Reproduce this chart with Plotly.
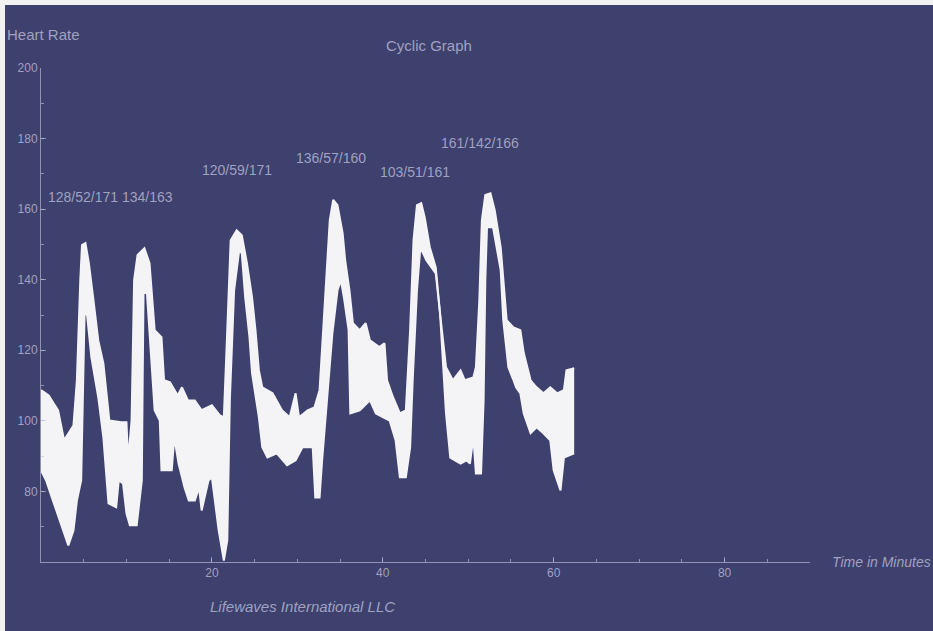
import plotly.graph_objects as go

# ---- data (minutes, heart rate bpm) ----
upper_min = [0, 0.9, 2.0, 2.7, 3.8, 4.2, 4.6, 4.8, 5.2, 5.6, 6.1, 6.7, 7.3, 8.0, 9.4, 10.0, 10.2, 10.6,
             10.9, 11.3, 12.1, 12.7, 13.3, 14.1, 14.4, 15.1, 16.0, 16.5, 17.2, 18.0, 18.8, 20.0, 20.9,
             21.4, 21.8, 22.2, 22.9, 23.5, 24.1, 24.7, 25.1, 25.5, 25.9, 27.1, 28.2, 29.1, 29.8, 30.2,
             31.2, 32.0, 32.6, 33.2, 33.8, 34.2, 34.7, 35.3, 35.6, 36.1, 36.5, 37.3, 38.0, 38.5, 39.6,
             40.2, 40.5, 41.2, 42.0, 42.7, 43.2, 43.6, 44.0, 44.5, 44.9, 45.5, 46.2, 46.7, 47.1, 47.4,
             48.2, 49.1, 49.6, 50.6, 50.9, 51.3, 51.6, 52.0, 52.6, 53.1, 53.8, 54.1, 54.5, 55.3, 56.1,
             56.5, 57.3, 58.0, 58.8, 59.6, 60.4, 61.2, 61.5, 62.4]
upper_hr = [108.7, 107.2, 103.0, 94.5, 98.7, 111.5, 139.9, 149.8, 150.4, 144.7, 135.0, 122.8, 116.3,
            100.1, 99.6, 99.6, 88.8, 100.1, 139.9, 147.0, 148.9, 144.7, 125.7, 123.7, 111.5, 110.9,
            107.2, 109.5, 105.8, 105.8, 103.0, 104.4, 101.6, 101.0, 125.7, 151.2, 154.0, 152.6, 144.7,
            135.0, 125.7, 114.3, 109.5, 107.8, 103.0, 101.0, 107.8, 101.0, 103.0, 103.8, 108.7, 134.2,
            156.9, 162.6, 161.1, 153.2, 145.5, 137.0, 127.7, 125.7, 127.7, 122.8, 120.9, 122.0, 111.5,
            106.7, 102.1, 103.0, 125.7, 151.2, 161.1, 161.7, 157.7, 149.2, 143.5, 130.5, 120.9, 115.2,
            111.5, 114.3, 111.5, 112.3, 115.2, 134.2, 156.9, 164.0, 164.5, 159.7, 149.2, 139.9, 128.5,
            126.5, 125.7, 119.2, 111.5, 109.5, 107.8, 109.5, 107.8, 108.7, 114.3, 114.9]

lower_min = [0, 0.6, 1.4, 2.4, 3.2, 3.8, 4.2, 4.7, 4.9, 5.1, 5.4, 5.9, 6.7, 7.3, 7.9, 8.8, 9.1, 9.6,
             10.0, 10.4, 11.2, 11.8, 11.9, 12.0, 12.4, 12.9, 13.3, 13.9, 14.1, 15.3, 15.6, 16.1, 16.8,
             17.3, 18.0, 18.5, 18.8, 19.6, 20.0, 20.8, 21.4, 21.8, 22.1, 22.6, 23.2, 23.5, 23.9, 24.4,
             24.7, 25.5, 25.9, 26.5, 27.6, 28.8, 29.8, 30.6, 31.8, 32.1, 32.6, 32.9, 33.5, 34.1, 34.7,
             35.1, 35.5, 36.0, 36.2, 37.3, 38.5, 39.2, 40.8, 41.5, 42.0, 42.7, 43.2, 43.5, 44.0, 44.4,
             45.1, 46.2, 46.7, 47.1, 47.4, 47.9, 49.1, 49.8, 50.2, 50.6, 50.9, 51.5, 51.8, 52.0, 52.2,
             52.9, 53.3, 53.8, 54.1, 54.7, 55.3, 55.6, 56.1, 56.5, 57.3, 58.0, 58.8, 59.6, 60.0, 60.8,
             61.2, 61.8, 62.4]
lower_hr = [86.0, 83.1, 77.4, 70.4, 64.7, 68.9, 77.4, 83.1, 105.8, 130.5, 129.9, 118.0, 106.7, 95.3,
            76.6, 75.5, 83.1, 82.3, 73.8, 70.4, 70.4, 83.1, 111.5, 136.2, 136.2, 116.3, 103.0, 100.1,
            86.0, 86.0, 95.3, 87.9, 81.1, 77.4, 77.4, 81.1, 74.6, 83.1, 84.0, 68.9, 60.4, 66.1, 105.8,
            137.0, 148.4, 147.5, 135.0, 123.7, 113.5, 101.0, 92.5, 89.6, 90.8, 87.4, 88.8, 92.5, 92.5,
            78.3, 78.3, 88.8, 105.8, 124.8, 137.0, 139.9, 134.2, 125.7, 102.1, 103.0, 105.8, 102.1,
            100.1, 94.5, 84.0, 84.0, 92.5, 111.5, 137.0, 149.2, 145.5, 141.8, 130.5, 115.2, 102.1, 89.6,
            87.9, 88.8, 87.9, 95.3, 85.1, 85.1, 105.8, 139.9, 154.9, 154.9, 149.2, 142.7, 128.5, 115.2,
            111.5, 109.5, 107.8, 102.1, 96.5, 98.2, 96.5, 94.5, 86.0, 80.3, 89.6, 90.1, 90.8]

peak_labels = ["128/52/171 134/163", "120/59/171", "136/57/160", "103/51/161", "161/142/166"]
x_tick_vals = [20, 40, 60, 80]
y_tick_vals = [80, 100, 120, 140, 160, 180, 200]

BG = "rgb(62,64,110)"
TXT = "rgba(200,202,225,0.72)"
AX = "rgba(190,192,215,0.65)"
WHITE = "#f4f4f6"

fig = go.Figure()
fig.add_trace(go.Scatter(x=lower_min, y=lower_hr, mode="lines",
                         line=dict(color=WHITE, width=2), hoverinfo="skip"))
fig.add_trace(go.Scatter(x=upper_min, y=upper_hr, mode="lines", fill="tonexty",
                         fillcolor=WHITE, line=dict(color=WHITE, width=2), hoverinfo="skip"))

W, H = 933, 631
L, R, T, B = 41, 123, 68, 69

fig.update_layout(
    width=W, height=H, showlegend=False,
    paper_bgcolor=BG, plot_bgcolor=BG,
    margin=dict(l=L, r=R, t=T, b=B),
    font=dict(family="Liberation Sans", size=12, color=TXT),
    xaxis=dict(range=[0, 90], tickvals=x_tick_vals, ticktext=[str(v) for v in x_tick_vals],
               showgrid=False, zeroline=False, showline=True, linecolor=AX, linewidth=1,
               ticks="inside", ticklen=5, tickcolor=AX,
               minor=dict(dtick=5, ticks="inside", ticklen=3, tickcolor=AX),
               tickfont=dict(size=12, color=TXT)),
    yaxis=dict(range=[60, 200], tickvals=y_tick_vals, ticktext=[str(v) for v in y_tick_vals],
               showgrid=False, zeroline=False, showline=True, linecolor=AX, linewidth=1,
               ticks="inside", ticklen=5, tickcolor=AX,
               minor=dict(dtick=10, ticks="inside", ticklen=3, tickcolor=AX),
               tickfont=dict(size=12, color=TXT)),
)

pw = W - L - R
ph = H - T - B
def px(xp):
    return (xp - L) / pw
def py(yp):
    return (H - B - yp) / ph

def label(text, xp, yp, size, xanchor="center"):
    return dict(text=text, x=px(xp), y=py(yp), xref="paper", yref="paper",
                xanchor=xanchor, yanchor="middle", showarrow=False,
                font=dict(size=size, color=TXT))

ann = [
    label("Cyclic Graph", 429, 45, 15),
    label("Heart Rate", 5, 35, 15, "left"),
    label("<i>Time in Minutes</i>", 830, 562, 14, "left"),
    label("<i>Lifewaves International LLC</i>", 302, 606, 15),
]
label_pos = [(110, 197), (237, 170), (331, 158), (415, 172), (480, 143)]
for t, (lx, ly) in zip(peak_labels, label_pos):
    ann.append(label(t, lx, ly, 14))
fig.update_layout(annotations=ann)

# scanned paper edges
fig.update_layout(shapes=[
    dict(type="rect", xref="paper", yref="paper", x0=px(0), x1=px(W), y0=py(5), y1=py(0),
         fillcolor="#f2f2f2", line_width=0, layer="above"),
    dict(type="rect", xref="paper", yref="paper", x0=px(0), x1=px(5), y0=py(H), y1=py(0),
         fillcolor="#f2f2f2", line_width=0, layer="above"),
])

fig.write_html("out.html", config={"displayModeBar": False},
               post_script="document.body.style.margin='0';document.body.style.overflow='hidden';")
